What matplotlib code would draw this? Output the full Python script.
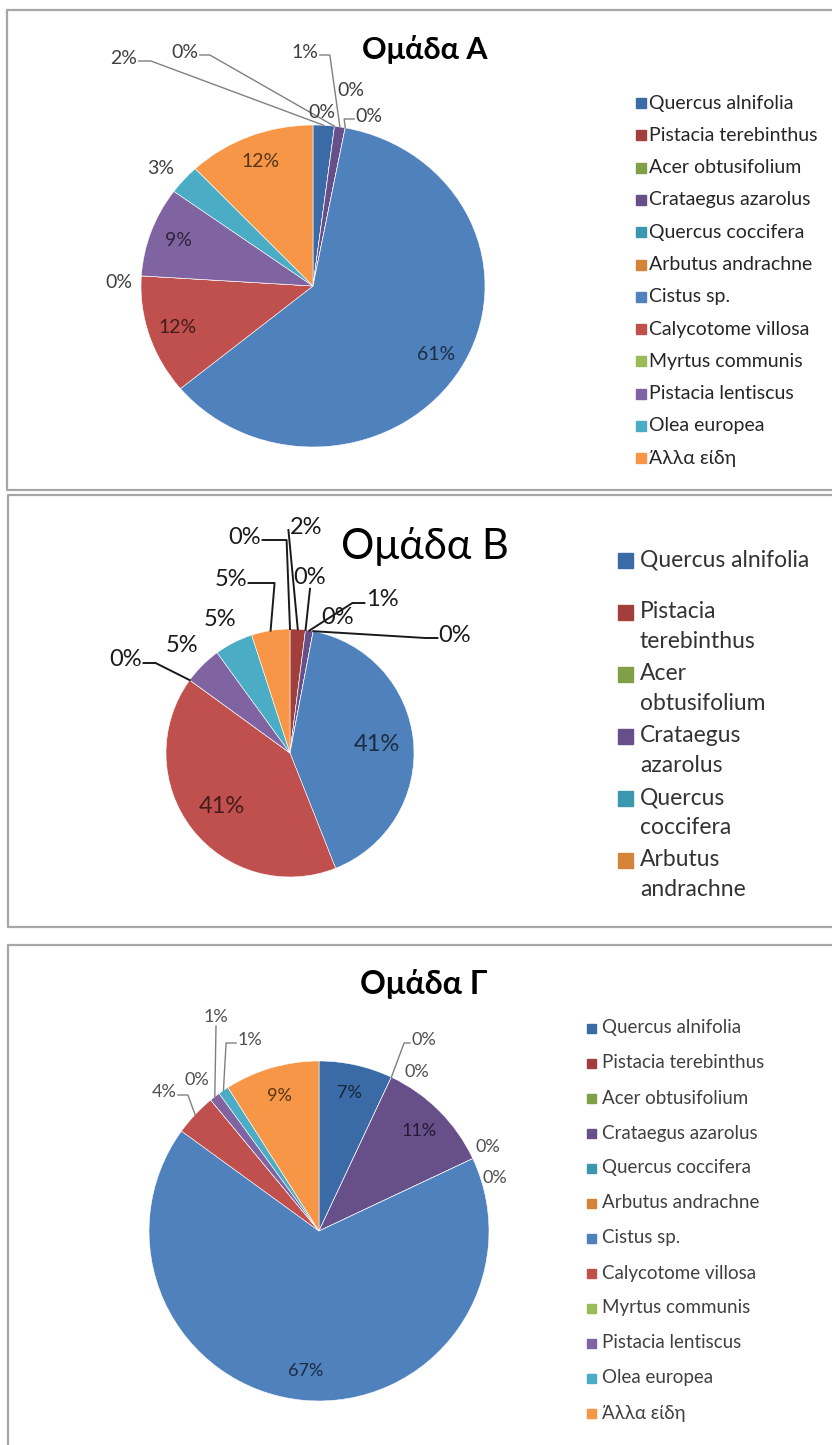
import numpy as np
import matplotlib
matplotlib.use('Agg')
import matplotlib.pyplot as plt
from matplotlib.patches import Rectangle
from matplotlib.colors import to_rgb

plt.rcParams['font.family'] = ['Lato', 'Noto Sans', 'DejaVu Sans']

W, H = 832, 1445

# ---------- data ----------
species = ['Quercus alnifolia', 'Pistacia terebinthus', 'Acer obtusifolium',
           'Crataegus azarolus', 'Quercus coccifera', 'Arbutus andrachne',
           'Cistus sp.', 'Calycotome villosa', 'Myrtus communis',
           'Pistacia lentiscus', 'Olea europea', 'Άλλα είδη']
colors = ['#3A6BA7', '#A23E3B', '#809F47', '#674F89', '#3A97AD', '#D6833A',
          '#4F81BD', '#C0504D', '#9BBB59', '#8064A2', '#4BACC6', '#F79646']

values_a = [2, 0, 0, 1, 0, 0, 61, 12, 0, 9, 3, 12]
values_b = [0, 2, 0, 1, 0, 0, 41, 41, 0, 5, 5, 5]
values_c = [7, 0, 0, 11, 0, 0, 67, 4, 0, 1, 1, 9]
titles = ['Ομάδα Α', 'Ομάδα Β', 'Ομάδα Γ']

# group B legend is cut after six entries and wraps the names
legend_b = ['Quercus alnifolia', 'Pistacia\nterebinthus', 'Acer\nobtusifolium',
            'Crataegus\nazarolus', 'Quercus\ncoccifera', 'Arbutus\nandrachne']

# ---------- layout (figure pixels, y down) ----------
# label spec: 'in' = inside slice, else (x, y, leader) ; leader = None or (side, elbow)
panels = [
    dict(values=values_a, title=titles[0], center=(313, 286), r=(172, 161),
         box=[(832, 10), (7, 10), (7, 490), (832, 490)],
         title_xy=(425, 50), title_fs=22, title_w='bold',
         lab_fs=14, lab_col='#404040', lead_col='#808080', lead_lw=1.0, pct=0.83,
         labels=[(124, 58, ('r', 12)), (185, 52, ('r', 10)), (322, 112, None),
                 (305, 52, ('r', 10)), (351, 90, None), (369, 116, ('l', 10)),
                 'in', 'in', (119, 283, None), 'in', (161, 168, None), 'in'],
         leg=dict(mx=636, tx=649, y0=103, step=32.3, size=10, fs=14, col='#262626')),
    dict(values=values_b, title=titles[1], center=(290, 753), r=(124, 124),
         box=[(832, 495), (8, 495), (8, 927), (832, 927)],
         title_xy=(425, 546), title_fs=30, title_w='normal',
         lab_fs=17, lab_col='#1A1A1A', lead_col='#1A1A1A', lead_lw=1.4, pct=0.7,
         labels=[(245, 537, ('r', 24)), (306, 527, ('l', 0)), (310, 577, ('b', 0)),
                 (382, 600, ('l', 12)), (338, 617, None), (455, 635, ('l', 12)),
                 'in', 'in', (126, 660, ('r', 12)), (182, 645, None),
                 (220, 620, None), (231, 580, ('r', 26))],
         leg=None),
    dict(values=values_c, title=titles[2], center=(319, 1231), r=(170, 170),
         box=[(832, 945), (8, 945), (8, 1445)],
         title_xy=(424, 984), title_fs=23, title_w='bold',
         lab_fs=13, lab_col='#505050', lead_col='#808080', lead_lw=1.0, pct=0.83,
         labels=['in', (424, 1040, ('l', 6)), (417, 1072, None), 'in',
                 (488, 1147, None), (495, 1178, None), 'in', (164, 1092, ('r', 10)),
                 (197, 1080, None), (216, 1017, ('b', 0)), (250, 1040, ('l', 10)), 'in'],
         leg=dict(mx=587, tx=602, y0=1028, step=35, size=9, fs=13.5, col='#404040')),
]

fig = plt.figure(figsize=(W / 100, H / 100), dpi=100)
canvas = fig.add_axes([0, 0, 1, 1])
canvas.set_xlim(0, W)
canvas.set_ylim(H, 0)
canvas.axis('off')
canvas.set_zorder(5)


def edge_point(p, theta, d=1.0):
    cx, cy = p['center']
    rx, ry = p['r']
    t = np.radians(theta)
    return cx + d * rx * np.sin(t), cy - d * ry * np.cos(t)


for p in panels:
    cx, cy = p['center']
    rx, ry = p['r']
    ax = fig.add_axes([(cx - rx) / W, 1 - (cy + ry) / H, 2 * rx / W, 2 * ry / H])
    ax.pie(p['values'], colors=colors, startangle=90, counterclock=False, radius=1,
           wedgeprops=dict(edgecolor='white', linewidth=0.4))
    ax.set_aspect('auto')
    ax.set_xlim(-1, 1)
    ax.set_ylim(-1, 1)
    ax.axis('off')

    # panel frame and title
    bx, by = zip(*p['box'])
    canvas.plot(bx, by, color='#A6A6A6', lw=1.6, solid_capstyle='butt')
    canvas.text(*p['title_xy'], p['title'], ha='center', va='center',
                fontsize=p['title_fs'], fontweight=p['title_w'], color='black')

    # percentage labels
    vals = np.array(p['values'], dtype=float)
    fr = vals / vals.sum()
    mids = 360 * (np.cumsum(fr) - fr / 2)
    fs_px = p['lab_fs'] / 0.72
    for i, spec in enumerate(p['labels']):
        txt = f'{int(p["values"][i])}%'
        if spec == 'in':
            x, y = edge_point(p, mids[i], p['pct'])
            col = np.array(to_rgb(colors[i])) * 0.35
            canvas.text(x, y, txt, ha='center', va='center', fontsize=p['lab_fs'], color=col)
            continue
        x, y, leader = spec
        canvas.text(x, y, txt, ha='center', va='center', fontsize=p['lab_fs'], color=p['lab_col'])
        if leader is None:
            continue
        side, elbow = leader
        half = 0.33 * len(txt) * fs_px
        if side == 'r':
            sx, sy = x + half + 2, y + 3
            ex, ey = sx + elbow, sy
        elif side == 'l':
            sx, sy = x - half - 2, y + 3
            ex, ey = sx - elbow, sy
        else:
            sx, sy = x, y + fs_px * 0.5
            ex, ey = sx, sy
        tx, ty = edge_point(p, mids[i], 1.0)
        canvas.plot([sx, ex, tx], [sy, ey, ty], color=p['lead_col'], lw=p['lead_lw'])

    # legend
    lg = p['leg']
    if lg is not None:
        for i, (name, col) in enumerate(zip(species, colors)):
            y = lg['y0'] + i * lg['step']
            s = lg['size']
            canvas.add_patch(Rectangle((lg['mx'], y - s / 2), s, s, color=col))
            canvas.text(lg['tx'], y, name, ha='left', va='center', fontsize=lg['fs'], color=lg['col'])

# group B legend with wrapped names
yb = [560] + [612 + 62 * k for k in range(len(legend_b) - 1)]
for i, name in enumerate(legend_b):
    canvas.add_patch(Rectangle((618, yb[i] - 7.5), 15, 15, color=colors[i]))
    for j, line in enumerate(name.split('\n')):
        canvas.text(640, yb[i] + j * 30, line, ha='left', va='center', fontsize=16.5, color='#333333')

fig.savefig('out.png', dpi=100)
